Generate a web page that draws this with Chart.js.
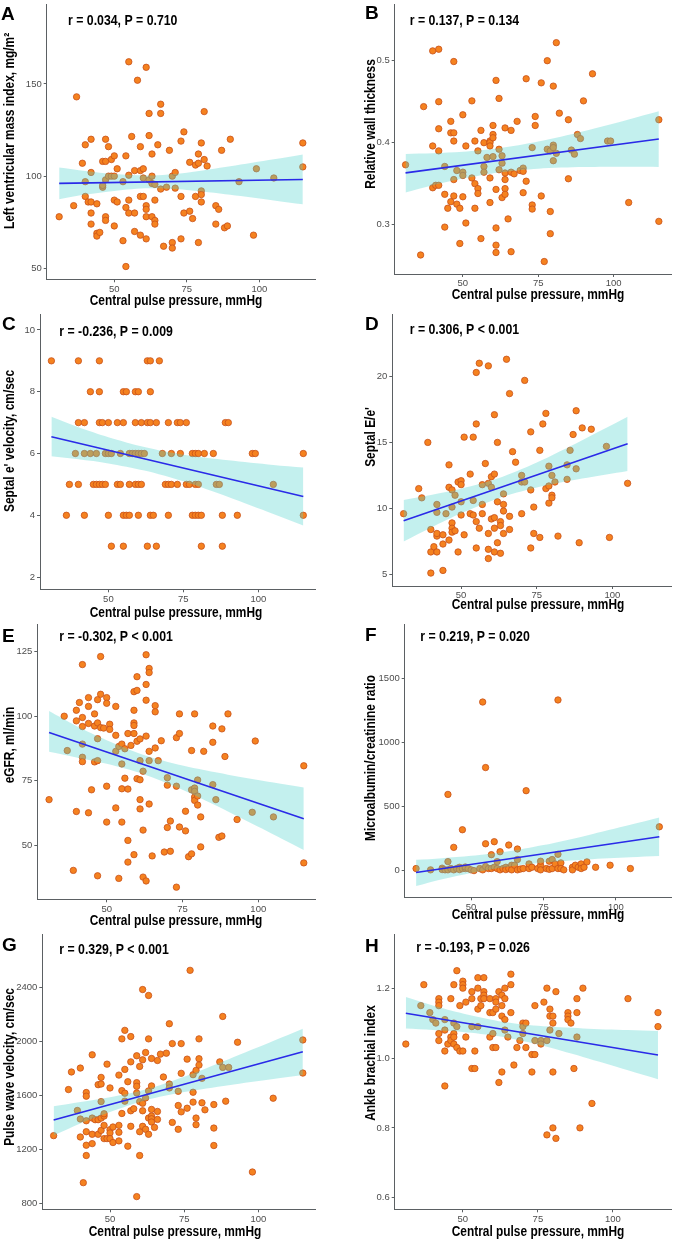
<!DOCTYPE html>
<html>
<head>
<meta charset="utf-8">
<script src="https://cdn.jsdelivr.net/npm/chart.js@4.4.1/dist/chart.umd.min.js"></script>
<style>
  html, body { margin: 0; padding: 0; background: #fff; }
  #fig { position: relative; width: 676px; height: 1241px; overflow: hidden; }
  #fig canvas { position: absolute; }
</style>
</head>
<body>
<div id="fig"></div>
<script>
// shared x axis: central pulse pressure (mmHg)
const xTicks = [50, 75, 100];
const xTitle = 'Central pulse pressure, mmHg';

// points: [central pulse pressure, value]
const lvmiPts = [[31,78],[36,84],[37,143],[39,107],[40,117],[40,97],[40,89],[41,86],[42,120],[42,102],[42,86],[42,80],[42,74],[44,85],[44,69],[44,67.5],[45,69.5],[46,94],[46,95],[46,108],[47,120],[47,108],[47,98],[47,78],[47,76],[48,116],[48,100],[49,100],[49,109],[50,111],[50,100],[50,87],[50,73],[51,104],[51,86],[53,97],[53,65],[54,111],[54,83],[54,51],[55,162],[55,100.5],[55,87],[55,80],[56,121.5],[57,103],[57,80],[57,70],[58,152],[59,116],[59,103],[59,89],[59,68],[60,104],[60,99],[60,89],[61,159],[61,84],[61,82],[61,78],[61,66],[62,134],[62,122],[62,98],[63,112],[63,100],[63,96],[63,78],[64,95.5],[64,87],[64,76],[64,74],[65,117],[66,139],[66,134],[66,93],[67,62],[68,94],[69,114],[70,100],[70,64],[70,61],[71,102],[71,93.5],[73,119],[73,89],[73,66],[74,124],[74,80],[76,81],[76,107.5],[77,77],[78,89],[78,106],[79,112],[79,107],[79,64],[80,118],[80,92],[80,90],[80,86],[81,135],[81,109],[82,105.5],[85,84],[86,82],[85,74],[87,114],[88,72],[89,73],[90,120],[93,97],[98,68],[99,104],[105,99],[115,118],[115,105]];
const rwtPts = [[31,0.373],[36,0.263],[37,0.444],[40,0.512],[40,0.396],[40,0.345],[41,0.348],[42,0.514],[42,0.450],[42,0.417],[42,0.390],[42,0.348],[44,0.371],[44,0.337],[44,0.297],[45,0.320],[46,0.426],[46,0.412],[46,0.328],[47,0.499],[47,0.412],[47,0.402],[47,0.355],[47,0.335],[48,0.366],[48,0.325],[49,0.320],[49,0.277],[50,0.434],[50,0.364],[50,0.360],[50,0.334],[51,0.396],[51,0.302],[53,0.451],[53,0.357],[54,0.402],[54,0.350],[54,0.320],[55,0.390],[55,0.344],[55,0.338],[56,0.415],[56,0.283],[57,0.400],[57,0.371],[57,0.364],[58,0.382],[59,0.402],[59,0.400],[59,0.396],[59,0.357],[59,0.327],[60,0.421],[60,0.410],[60,0.406],[60,0.383],[61,0.476],[61,0.343],[61,0.296],[61,0.275],[61,0.266],[62,0.454],[62,0.392],[62,0.367],[63,0.384],[63,0.375],[63,0.333],[64,0.418],[64,0.363],[64,0.355],[64,0.344],[64,0.337],[65,0.307],[66,0.415],[66,0.364],[66,0.267],[67,0.362],[68,0.426],[69,0.366],[70,0.369],[70,0.365],[70,0.339],[71,0.478],[71,0.353],[73,0.394],[73,0.324],[73,0.319],[74,0.432],[74,0.421],[76,0.473],[76,0.335],[77,0.255],[78,0.500],[78,0.392],[79,0.390],[79,0.316],[79,0.289],[80,0.469],[80,0.397],[80,0.394],[80,0.378],[81,0.522],[81,0.387],[82,0.436],[85,0.428],[85,0.356],[86,0.391],[87,0.386],[88,0.410],[89,0.405],[90,0.451],[93,0.484],[98,0.402],[99,0.402],[105,0.327],[115,0.428],[115,0.304]];
const septalEPts = [[31,9],[40,9],[47,9],[63,9],[64,9],[67,9],
  [44,8],[47,8],[55,8],[56,8],[59,8],[60,8],[64,8],
  [40,7],[42,7],[47,7],[48,7],[50,7],[53,7],[55,7],[59,7],[61,7],[63,7],[64,7],[66,7],[70,7],[73,7],[74,7],[76,7],[89,7],[90,7],
  [39,6],[42,6],[44,6],[46,6],[49,6],[50,6],[51,6],[54,6],[57,6],[58,6],[59,6],[60,6],[61,6],[62,6],[68,6],[71,6],[74,6],[78,6],[79,6],[80,6],[82,6],[85,6],[98,6],[99,6],[115,6],
  [37,5],[40,5],[45,5],[46,5],[47,5],[48,5],[49,5],[53,5],[54,5],[57,5],[59,5],[60,5],[61,5],[69,5],[70,5],[71,5],[73,5],[76,5],[77,5],[79,5],[80,5],[86,5],[87,5],[105,5],
  [36,4],[42,4],[50,4],[55,4],[56,4],[57,4],[60,4],[64,4],[65,4],[70,4],[78,4],[79,4],[80,4],[81,4],[88,4],[93,4],[115,4],
  [51,3],[55,3],[63,3],[66,3],[81,3],[88,3]];
const eeRatioPts = [[31,9.6],[36,11.5],[37,10.8],[39,15.0],[40,8.4],[40,6.7],[40,5.1],[41,7.1],[42,7.9],[42,8.1],[42,6.7],[42,10.3],[42,9.7],[44,8.0],[44,7.3],[44,5.3],[45,9.6],[46,13.3],[46,11.6],[46,7.6],[47,11.4],[47,10.1],[47,8.9],[47,8.5],[47,8.2],[48,11.0],[48,8.3],[49,6.7],[49,12.0],[50,12.1],[50,11.8],[50,10.5],[50,9.5],[51,15.4],[51,8.0],[53,12.6],[53,9.6],[54,15.4],[54,10.6],[54,9.5],[55,20.3],[55,16.4],[55,9.0],[55,7.0],[56,21.0],[56,8.5],[57,11.8],[57,10.3],[57,9.6],[58,13.4],[59,20.8],[59,11.9],[59,8.1],[59,6.9],[59,6.2],[60,12.4],[60,11.6],[60,9.2],[61,17.1],[61,12.6],[61,9.3],[61,8.5],[61,6.7],[62,15.0],[62,10.5],[62,7.4],[63,9.0],[63,8.7],[63,6.6],[64,11.1],[64,10.3],[64,9.8],[64,8.1],[65,21.3],[66,18.7],[66,9.4],[66,8.4],[67,14.3],[68,13.5],[70,12.5],[70,12.0],[70,9.6],[71,12.0],[71,19.7],[73,15.8],[73,11.4],[73,7.0],[74,10.1],[74,8.1],[76,14.4],[76,7.8],[77,16.4],[78,17.2],[78,11.5],[79,13.2],[79,11.7],[79,10.4],[80,12.5],[80,11.0],[80,10.8],[81,12.0],[82,7.9],[85,13.3],[85,12.2],[86,14.4],[87,15.6],[88,17.4],[88,13.0],[89,7.4],[90,16.1],[93,16.0],[98,14.7],[99,7.8],[105,11.9]];
const egfrPts = [[31,67.7],[36,100],[37,86.7],[39,40.3],[40,102.3],[40,98.2],[40,63.1],[41,105.3],[42,120],[42,99.5],[42,96],[42,89.2],[42,84.1],[42,82.4],[44,107.2],[44,103.8],[44,97.2],[44,62.6],[45,71.5],[46,100.9],[46,96.2],[46,82.3],[47,106.4],[47,97.4],[47,91.3],[47,82.8],[47,38.2],[48,123.1],[48,108.5],[48,95.6],[49,95.4],[50,107.2],[50,105],[50,72.9],[50,59],[51,96.9],[51,94.9],[53,103.8],[53,92.6],[53,86.4],[53,64.5],[54,37.2],[54,88.3],[55,89.2],[55,81.5],[55,71.9],[55,59],[56,87.4],[56,76],[57,93.3],[57,71.8],[57,51.9],[57,43.5],[58,88.7],[59,109.5],[59,102.3],[59,97.4],[59,96.4],[59,93.3],[59,46.4],[60,110],[60,115.3],[60,90.3],[60,75.8],[61,75.4],[61,91.2],[61,67.7],[61,64.1],[61,82.8],[62,55.9],[62,78.7],[62,37.7],[63,123.8],[63,112.3],[63,106.2],[63,92.3],[63,36.2],[64,118.5],[64,116.9],[64,86.4],[64,82.8],[64,66],[65,45.9],[66,104.1],[66,101.7],[66,87.7],[67,82.8],[68,90.5],[69,47.4],[70,76.2],[70,73.3],[70,56.9],[71,47.7],[71,59.4],[73,91.7],[73,72.9],[73,33.8],[74,100.9],[74,93.3],[74,57.1],[76,55.6],[76,63.2],[77,45.6],[78,86.7],[78,71.5],[78,46.7],[79,100.9],[79,72.2],[79,70.9],[79,68.7],[79,67.4],[80,75.3],[80,69.1],[80,65.6],[81,61],[81,49.4],[82,86.4],[85,96.2],[85,89.9],[85,73.5],[86,67.7],[87,53.1],[88,53.6],[88,95.1],[89,84.4],[90,100.9],[93,60],[98,62.8],[99,90.4],[105,61],[115,80.8],[115,43.2]];
const uacrPts = [[31,18],[36,8],[40,21],[40,10],[41,8],[42,595],[42,72],[42,8],[43,18],[44,183],[44,8],[45,18],[46,28],[46,10],[47,320],[47,18],[48,18],[48,30],[49,18],[50,8],[51,2],[53,18],[54,1314],[54,8],[55,804],[55,211],[55,34],[56,18],[57,126],[57,18],[58,227],[58,28],[59,72],[59,18],[60,149],[60,8],[61,18],[62,28],[62,10],[63,201],[63,18],[64,44],[64,8],[65,44],[66,170],[66,88],[66,8],[67,14],[68,18],[69,624],[70,18],[70,54],[71,28],[73,18],[74,44],[74,75],[74,8],[76,18],[77,75],[77,12],[78,88],[78,18],[79,54],[80,1330],[80,129],[80,18],[81,62],[81,18],[82,8],[85,28],[85,8],[86,44],[87,28],[88,54],[88,18],[89,28],[90,70],[93,28],[98,44],[105,18],[115,343]];
const pwvPts = [[31,1301],[36,1642],[37,1772],[39,1487],[40,1801],[40,1424],[40,1291],[41,953],[42,1620],[42,1593],[42,1411],[42,1330],[42,1230],[42,1154],[44,1899],[44,1431],[44,1311],[44,1242],[45,1419],[46,1678],[46,1419],[46,1311],[47,1683],[47,1732],[47,1553],[47,1431],[47,1340],[48,1446],[48,1377],[48,1279],[48,1463],[49,1830],[49,1279],[50,1654],[50,1345],[50,1321],[50,1279],[51,1365],[51,1250],[53,1749],[53,1377],[53,1326],[53,1262],[54,2017],[54,1634],[54,1465],[55,2080],[55,1791],[55,1615],[55,1556],[56,1700],[56,1223],[57,2034],[57,1847],[57,1485],[57,1370],[58,1500],[59,1892],[59,1693],[59,1666],[59,1617],[59,850],[60,1813],[60,1553],[60,1330],[60,1154],[61,2382],[61,1862],[61,1541],[61,1485],[61,1370],[62,1916],[62,1580],[62,1348],[63,2338],[63,2017],[63,1632],[63,1431],[63,1311],[64,1872],[64,1669],[64,1495],[64,1446],[64,1426],[64,1402],[65,1362],[66,1857],[66,1480],[66,1421],[67,1904],[68,1735],[69,1911],[70,2129],[70,1683],[70,1654],[71,1399],[71,1982],[73,1629],[73,1524],[73,1348],[74,1982],[74,1762],[74,1477],[76,1867],[76,1504],[77,2524],[78,1752],[78,1622],[78,1549],[79,1784],[79,1431],[79,1382],[80,1870],[80,1823],[80,2017],[81,1725],[81,1544],[82,1492],[85,1531],[85,1357],[85,1228],[87,1847],[88,2183],[88,1806],[89,1556],[90,1806],[93,1992],[98,1032],[105,1578],[115,2009],[115,1764]];
const abiPts = [[31,1.04],[36,1.15],[37,1.21],[39,1.13],[40,1.11],[41,1.10],[42,1.17],[42,1.16],[42,1.15],[42,1.07],[42,1.05],[44,1.11],[44,1.08],[44,1.02],[44,0.92],[45,1.04],[46,1.17],[46,1.06],[46,1.05],[47,1.21],[47,1.10],[47,1.07],[47,1.06],[47,1.04],[48,1.25],[48,1.09],[48,1.03],[49,1.15],[49,1.02],[50,1.22],[50,1.21],[50,1.20],[50,1.02],[51,1.16],[51,1.06],[53,1.19],[53,1.17],[53,1.09],[53,0.97],[54,1.02],[54,0.97],[55,1.23],[55,1.20],[55,1.14],[55,1.09],[56,1.15],[56,1.17],[57,1.23],[57,1.19],[57,1.18],[57,1.17],[59,1.17],[59,1.13],[59,1.06],[60,1.13],[60,1.07],[60,1.03],[61,1.17],[61,1.16],[61,1.14],[61,1.03],[62,1.19],[62,0.93],[63,1.18],[63,1.15],[63,1.12],[63,0.96],[64,1.20],[64,1.17],[64,1.11],[64,1.08],[65,1.06],[66,1.24],[66,1.21],[66,1.13],[67,0.98],[68,1.03],[69,1.05],[70,1.10],[70,1.09],[70,1.07],[71,1.10],[71,1.03],[73,1.01],[73,0.96],[74,1.15],[74,1.05],[74,1.01],[76,1.05],[76,1.04],[77,1.16],[78,1.20],[78,1.05],[78,0.78],[79,1.14],[79,1.12],[79,1.08],[80,1.12],[80,1.10],[80,0.96],[80,0.80],[81,1.19],[81,0.77],[82,1.07],[85,1.13],[85,1.12],[85,1.11],[86,1.10],[87,0.97],[88,1.17],[88,1.13],[88,1.06],[89,0.80],[90,1.20],[93,0.87],[105,1.17],[115,1.13],[115,1.09]];

// fitted line ends and 95% band edges
const bandX = [31, 40, 50, 62, 75, 90, 105, 115];
const bandXD = [31, 40, 50, 62, 75, 90, 105];
const lvmiLine = [96.1, 98.2];
const lvmiUpper = [104.7, 102.8, 101.2, 100.4, 101.9, 105.3, 109.1, 111.7];
const lvmiLower = [87.5, 90.0, 92.0, 93.4, 92.5, 89.9, 86.8, 84.7];
const rwtLine = [0.3632, 0.4044];
const rwtUpper = [0.3863, 0.3871, 0.3888, 0.3931, 0.4013, 0.4140, 0.4284, 0.4384];
const rwtLower = [0.3391, 0.3481, 0.3562, 0.3637, 0.3683, 0.3702, 0.3706, 0.3704];
const septalELine = [6.54, 4.61];
const septalEUpper = [7.19, 6.85, 6.53, 6.21, 5.96, 5.78, 5.63, 5.55];
const septalELower = [5.91, 5.81, 5.68, 5.45, 5.10, 4.59, 4.04, 3.67];
const eeRatioLine = [9.07, 14.89];
const eeRatioUpper = [10.64, 11.02, 11.49, 12.26, 13.48, 15.17, 16.94];
const eeRatioLower = [7.50, 8.54, 9.63, 10.74, 11.58, 12.26, 12.84];
const egfrLine = [93.7, 60.3];
const egfrUpper = [101.99, 96.19, 90.70, 85.11, 80.89, 77.38, 74.33, 72.4];
const egfrLower = [86.21, 84.05, 81.58, 77.63, 71.51, 63.10, 54.23, 48.2];
const uacrLine = [-13, 265];
const uacrUpper = [85.7, 99.1, 116.8, 148.8, 200.7, 276.1, 358.5, 415];
const uacrLower = [-118.3, -65.5, -17.0, 30.4, 64.5, 88.5, 105.5, 115];
const pwvLine = [1416, 1921];
const pwvUpper = [1517.9, 1549.6, 1584.7, 1641.7, 1737.1, 1866.9, 2001.3, 2092];
const pwvLower = [1302.1, 1390.6, 1475.7, 1562.9, 1623.7, 1674.3, 1720.1, 1750];
const abiLine = [1.128, 1.0085];
const abiUpper = [1.1745, 1.1500, 1.1272, 1.1055, 1.0923, 1.0848, 1.0801, 1.0775];
const abiLower = [1.0843, 1.0804, 1.0748, 1.0623, 1.0385, 1.0032, 0.9653, 0.9395];

// y tick values and labels
const lvmiTicks = [50, 100, 150];
const rwtTicks = [0.3, 0.4, 0.5];
const rwtTickLabels = ['0.3', '0.4', '0.5'];
const septalETicks = [2, 4, 6, 8, 10];
const eeRatioTicks = [5, 10, 15, 20];
const egfrTicks = [50, 75, 100, 125];
const uacrTicks = [0, 500, 1000, 1500];
const pwvTicks = [800, 1200, 1600, 2000, 2400];
const abiTicks = [0.6, 0.8, 1.0, 1.2];
const abiTickLabels = ['0.6', '0.8', '1.0', '1.2'];

const SANS = '"Liberation Sans", Arial, sans-serif';
const SQUEEZE = 0.82;   // no narrow face installed, so text is squeezed horizontally
const axisColor = '#5b6063';

const panels = [
  { letter: 'A', stat: 'r = 0.034, P = 0.710', yTitle: 'Left ventricular mass index, mg/m\u00b2',
    pts: lvmiPts, lx: [31, 115], ly: lvmiLine, bx: bandX, up: lvmiUpper, lo: lvmiLower, yt: lvmiTicks,
    pos: [0, 0, 338, 310], area: [46.7, 3, 315, 279.3], xr: [26.7, 119.2], yr: [44.07, 192.9],
    letterAt: [1, 19.5], statAt: [68, 20.7], yTitleAt: [10, 131], xTitleAt: [176, 301] },
  { letter: 'B', stat: 'r = 0.137, P = 0.134', yTitle: 'Relative wall thickness',
    pts: rwtPts, lx: [31, 115], ly: rwtLine, bx: bandX, up: rwtUpper, lo: rwtLower, yt: rwtTicks, ytl: rwtTickLabels,
    pos: [338, 0, 338, 310], area: [56.7, 3, 338, 274], xr: [27.4, 119.1], yr: [0.2398, 0.5682],
    letterAt: [27, 18.5], statAt: [71.7, 20.7], yTitleAt: [33, 124], xTitleAt: [200, 295] },
  { letter: 'C', stat: 'r = -0.236, P = 0.009', yTitle: "Septal e' velocity, cm/sec",
    pts: septalEPts, lx: [31, 115], ly: septalELine, bx: bandX, up: septalEUpper, lo: septalELower, yt: septalETicks,
    pos: [0, 310, 338, 310], area: [40, 3, 315, 279.3], xr: [27.2, 118.9], yr: [1.604, 10.49],
    letterAt: [2, 20], statAt: [59.3, 21.7], yTitleAt: [10, 131], xTitleAt: [176, 303] },
  { letter: 'D', stat: 'r = 0.306, P < 0.001', yTitle: "Septal E/e'",
    pts: eeRatioPts, lx: [31, 105], ly: eeRatioLine, bx: bandXD, up: eeRatioUpper, lo: eeRatioLower, yt: eeRatioTicks,
    pos: [338, 310, 338, 310], area: [54.3, 3, 338, 276], xr: [27.27, 119.4], yr: [4.12, 24.67],
    letterAt: [27, 20], statAt: [71.7, 20], yTitleAt: [33, 127], xTitleAt: [200, 295] },
  { letter: 'E', stat: 'r = -0.302, P < 0.001', yTitle: 'eGFR, ml/min',
    pts: egfrPts, lx: [31, 115], ly: egfrLine, bx: bandX, up: egfrUpper, lo: egfrLower, yt: egfrTicks,
    pos: [0, 620, 338, 310], area: [37.3, 3, 315, 279.3], xr: [27.12, 118.7], yr: [29.1, 135.4],
    letterAt: [2, 21.5], statAt: [59.3, 16.7], yTitleAt: [10, 125], xTitleAt: [176, 301] },
  { letter: 'F', stat: 'r = 0.219, P = 0.020', yTitle: 'Microalbumin/creatinine ratio',
    pts: uacrPts, lx: [31, 115], ly: uacrLine, bx: bandX, up: uacrUpper, lo: uacrLower, yt: uacrTicks,
    pos: [338, 620, 338, 310], area: [66.7, 3, 338, 277.3], xr: [27.07, 119.1], yr: [-205.7, 1915],
    letterAt: [27, 20.5], statAt: [82.3, 16.7], yTitleAt: [33, 138], xTitleAt: [200, 295] },
  { letter: 'G', stat: 'r = 0.329, P < 0.001', yTitle: 'Pulse wave velocity, cm/sec',
    pts: pwvPts, lx: [31, 115], ly: pwvLine, bx: bandX, up: pwvUpper, lo: pwvLower, yt: pwvTicks,
    pos: [0, 930, 338, 311], area: [42.3, 3, 315, 279.3], xr: [27.18, 119.1], yr: [756, 2787],
    letterAt: [2, 21], statAt: [59.3, 20], yTitleAt: [10, 137], xTitleAt: [175, 301.7] },
  { letter: 'H', stat: 'r = -0.193, P = 0.026', yTitle: 'Ankle brachial index',
    pts: abiPts, lx: [31, 115], ly: abiLine, bx: bandX, up: abiUpper, lo: abiLower, yt: abiTicks, ytl: abiTickLabels,
    pos: [338, 930, 338, 311], area: [56.7, 3, 338, 279.3], xr: [27.3, 119.4], yr: [0.567, 1.3527],
    letterAt: [27, 21.5], statAt: [78.3, 18.3], yTitleAt: [33, 133], xTitleAt: [200, 301.7] }
];

// draw squeezed text; angle in radians
function narrowText(ctx, text, x, y, align, angle) {
  ctx.save();
  ctx.translate(x, y);
  if (angle) ctx.rotate(angle);
  ctx.scale(SQUEEZE, 1);
  ctx.textAlign = align;
  ctx.fillText(text, 0, 0);
  ctx.restore();
}

const fig = document.getElementById('fig');

panels.forEach(p => {
  const [px, py, w, h] = p.pos;
  const [L, T, R, B] = p.area;
  const canvas = document.createElement('canvas');
  canvas.width = w;
  canvas.height = h;
  canvas.style.left = px + 'px';
  canvas.style.top = py + 'px';
  canvas.style.width = w + 'px';
  canvas.style.height = h + 'px';
  fig.appendChild(canvas);

  const toXY = (xs, ys) => xs.map((x, i) => ({ x: x, y: ys[i] }));

  // titles, letter and statistics drawn straight on the canvas
  const panelText = {
    id: 'panelText',
    afterDraw(chart) {
      const ctx = chart.ctx;
      ctx.save();
      ctx.fillStyle = '#000';
      ctx.textAlign = 'left';
      ctx.textBaseline = 'alphabetic';
      ctx.font = 'bold 19px ' + SANS;
      ctx.fillText(p.letter, p.letterAt[0], p.letterAt[1]);
      ctx.textBaseline = 'middle';
      ctx.font = 'bold 15px ' + SANS;
      narrowText(ctx, p.stat, p.statAt[0], p.statAt[1], 'left', 0);
      ctx.font = 'bold 14.5px ' + SANS;
      narrowText(ctx, xTitle, p.xTitleAt[0], p.xTitleAt[1], 'center', 0);
      narrowText(ctx, p.yTitle, p.yTitleAt[0], p.yTitleAt[1], 'center', -Math.PI / 2);
      ctx.restore();
    }
  };

  new Chart(canvas, {
    type: 'scatter',
    data: {
      datasets: [
        { data: toXY(p.lx, p.ly), showLine: true, borderColor: '#2a2ae8', borderWidth: 1.6,
          pointRadius: 0, fill: false, order: 0 },
        { data: toXY(p.bx, p.up), showLine: true, borderWidth: 0, borderColor: 'rgba(0,0,0,0)',
          pointRadius: 0, tension: 0.3, fill: '+1', backgroundColor: 'rgba(83,211,206,0.35)', order: 1 },
        { data: toXY(p.bx, p.lo), showLine: true, borderWidth: 0, borderColor: 'rgba(0,0,0,0)',
          pointRadius: 0, tension: 0.3, fill: false, order: 2 },
        { data: p.pts.map(d => ({ x: d[0], y: d[1] })), pointRadius: 3.2, pointBackgroundColor: '#f5821f',
          pointBorderColor: '#c8501a', pointBorderWidth: 0.8, order: 3 }
      ]
    },
    options: {
      responsive: false,
      animation: false,
      devicePixelRatio: 1,
      events: [],
      layout: { padding: { left: 0, top: T, right: w - R, bottom: 0 } },
      plugins: { legend: { display: false }, tooltip: { enabled: false } },
      scales: {
        x: {
          type: 'linear', min: p.xr[0], max: p.xr[1],
          afterBuildTicks: s => { s.ticks = xTicks.map(v => ({ value: v })); },
          afterFit: s => { s.height = h - B; s.paddingLeft = 0; s.paddingRight = 0; },
          ticks: { autoSkip: false, maxRotation: 0, padding: 1, color: '#4d4d4d',
                   font: { family: SANS, size: 9.5 } },
          grid: { drawOnChartArea: false, tickLength: 3, color: axisColor },
          border: { color: axisColor, width: 1 }
        },
        y: {
          type: 'linear', min: p.yr[0], max: p.yr[1],
          afterBuildTicks: s => { s.ticks = p.yt.map(v => ({ value: v })); },
          afterFit: s => { s.width = L; s.paddingTop = 0; s.paddingBottom = 0; },
          ticks: { autoSkip: false, padding: 2, color: '#4d4d4d',
                   font: { family: SANS, size: 9.5 },
                   callback: (v, i) => p.ytl ? p.ytl[i] : String(p.yt[i]) },
          grid: { drawOnChartArea: false, tickLength: 3, color: axisColor },
          border: { color: axisColor, width: 1 }
        }
      }
    },
    plugins: [panelText]
  });
});
</script>
</body>
</html>
